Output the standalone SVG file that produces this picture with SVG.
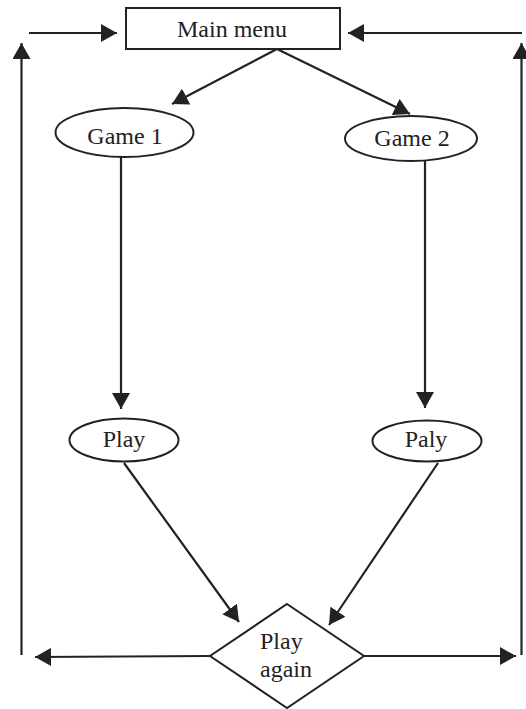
<svg xmlns="http://www.w3.org/2000/svg" width="526" height="709" viewBox="0 0 526 709">
<style>
.shape{fill:#fff;stroke:#222;stroke-width:2}
.edge{fill:none;stroke:#222;stroke-width:2.2;marker-end:url(#ah)}
text{font-family:"Liberation Serif","Times New Roman",serif;font-size:24px;fill:#222}
.c{text-anchor:middle}
</style>
<defs>
<marker id="ah" markerUnits="userSpaceOnUse" markerWidth="17" markerHeight="18" refX="16" refY="9" orient="auto" viewBox="0 0 17 18">
<path d="M0,0 L16,9 L0,18 z" fill="#222"/>
</marker>
</defs>
<rect width="526" height="709" fill="#fff"/>
<g id="connectors">
<line class="edge" x1="29" y1="33" x2="117" y2="33"/>
<line class="edge" x1="522" y1="33" x2="348" y2="33"/>
<line class="edge" x1="21.5" y1="655" x2="21.5" y2="43"/>
<line class="edge" x1="521.5" y1="655" x2="521.5" y2="43"/>
<line class="edge" x1="277" y1="49" x2="172" y2="104"/>
<line class="edge" x1="277" y1="49" x2="410" y2="114"/>
<line class="edge" x1="121" y1="157" x2="121" y2="409"/>
<line class="edge" x1="425" y1="161" x2="425" y2="408"/>
<line class="edge" x1="124" y1="463" x2="239" y2="622"/>
<line class="edge" x1="438" y1="463" x2="329" y2="625"/>
<line class="edge" x1="210" y1="656" x2="35" y2="657"/>
<line class="edge" x1="364" y1="656" x2="516" y2="656"/>
</g>
<g id="main-menu">
<rect class="shape" x="126" y="8" width="214" height="41"/>
<text class="c" x="232" y="37">Main menu</text>
</g>
<g id="game1">
<ellipse class="shape" cx="124.5" cy="132.5" rx="69" ry="24.5"/>
<text class="c" x="125" y="144">Game 1</text>
</g>
<g id="game2">
<ellipse class="shape" cx="411" cy="138.5" rx="66" ry="22.5"/>
<text class="c" x="412" y="146">Game 2</text>
</g>
<g id="play1">
<ellipse class="shape" cx="124" cy="440" rx="54.5" ry="21.5"/>
<text class="c" x="124" y="447">Play</text>
</g>
<g id="play2">
<ellipse class="shape" cx="427" cy="441" rx="54.5" ry="20.5"/>
<text class="c" x="426" y="447">Paly</text>
</g>
<g id="play-again">
<polygon class="shape" points="287,604 364,656 287,708 210,656"/>
<text x="260" y="649">Play</text>
<text x="260" y="677">again</text>
</g>
</svg>
